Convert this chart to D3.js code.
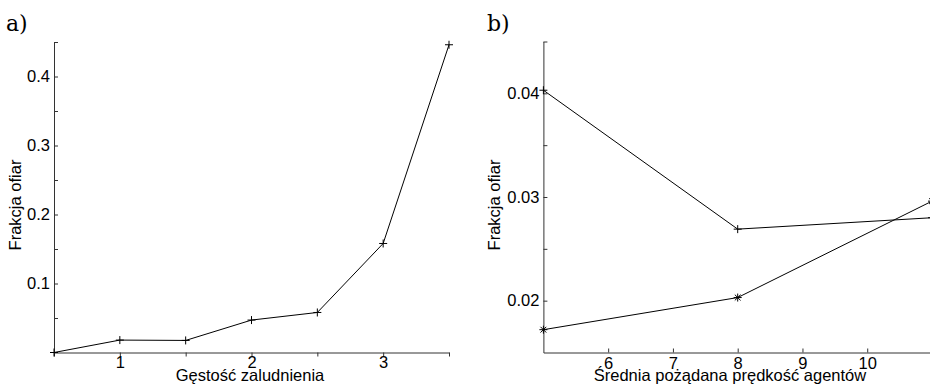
<!DOCTYPE html>
<html><head><meta charset="utf-8">
<script src="https://cdn.jsdelivr.net/npm/d3@7"></script>
<style>
body{margin:0;background:#fff;}
svg{display:block;}
.tick text{font-family:"Liberation Sans",Arial,sans-serif;font-size:16.5px;fill:#000;}
.axtitle{font-family:"Liberation Sans",Arial,sans-serif;font-size:16.5px;fill:#000;}
.plabel{font-family:"DejaVu Serif",serif;font-size:22px;fill:#000;}
</style></head>
<body>
<script>
// ---- Data ----
const densityX = [0.5, 1, 1.5, 2, 2.5, 3, 3.5];
const densityVictims = [0, 0.018, 0.0175, 0.047, 0.058, 0.158, 0.446];
const speedX = [5, 8, 11];
const speedVictimsPlus = [0.0403, 0.0269, 0.0280];
const speedVictimsStar = [0.0172, 0.0203, 0.0296];
const aXTicks = [0.5, 1, 1.5, 2, 2.5, 3, 3.5];
const aXLabeled = [1, 2, 3];
const aYTicks = [0.05, 0.1, 0.15, 0.2, 0.25, 0.3, 0.35, 0.4, 0.45];
const aYLabeled = [0.1, 0.2, 0.3, 0.4];
const bXTicks = [6, 7, 8, 9, 10];
const bYTicks = [0.02, 0.025, 0.03, 0.035, 0.04, 0.045];
const bYLabeled = [0.02, 0.03, 0.04];
const titles = {aX:"Gęstość zaludnienia", aY:"Frakcja ofiar", bX:"Średnia pożądana prędkość agentów", bY:"Frakcja ofiar"};

const W = 930, H = 386;
const svg = d3.select("body").append("svg").attr("width", W).attr("height", H);
const axisColor = "#333";

function near(arr, v){ return arr.some(a => Math.abs(a - v) < 1e-9); }

function plusPath(x, y, r){ return `M${x-r},${y}H${x+r}M${x},${y-r}V${y+r}`; }
function starPath(x, y, r){
  const d = r*0.72;
  return plusPath(x,y,r) + `M${x-d},${y-d}L${x+d},${y+d}M${x-d},${y+d}L${x+d},${y-d}`;
}

function styleAxis(g){
  g.select(".domain").attr("stroke", axisColor).attr("stroke-width", 1);
  g.selectAll(".tick line").attr("stroke", axisColor).attr("stroke-width", 1);
}

// ---- Panel a ----
{
  const x = d3.scaleLinear().domain([0.5, 3.5]).range([54, 449]);
  const y = d3.scaleLinear().domain([0, 0.45]).range([352.5, 42]);
  const gx = svg.append("g").attr("transform", "translate(0,352.5)")
    .call(d3.axisBottom(x).tickValues(aXTicks).tickSizeInner(4).tickSizeOuter(0).tickPadding(0)
      .tickFormat(d => near(aXLabeled, d) ? d3.format("d")(d) : ""));
  styleAxis(gx);
  const gy = svg.append("g").attr("transform", "translate(54,0)")
    .call(d3.axisLeft(y).tickValues(aYTicks).tickSizeInner(-4).tickSizeOuter(0).tickPadding(4)
      .tickFormat(d => near(aYLabeled, d) ? d3.format(".1f")(d) : ""));
  styleAxis(gy);
  const pts = densityX.map((d, i) => [d, densityVictims[i]]);
  svg.append("path").datum(pts)
    .attr("d", d3.line().x(d => x(d[0])).y(d => y(d[1])))
    .attr("fill", "none").attr("stroke", "#000").attr("stroke-width", 1);
  svg.append("g").selectAll("path").data(pts).join("path")
    .attr("d", d => plusPath(x(d[0]), y(d[1]), 4))
    .attr("stroke", "#000").attr("stroke-width", 1).attr("fill", "none");
  svg.append("text").attr("class", "axtitle").attr("x", 250).attr("y", 380.5)
    .attr("text-anchor", "middle").text(titles.aX);
  svg.append("text").attr("class", "axtitle").attr("transform", "translate(21,205) rotate(-90)")
    .attr("text-anchor", "middle").text(titles.aY);
  svg.append("text").attr("class", "plabel").attr("x", 6).attr("y", 31).text("a)");
}

// ---- Panel b ----
{
  const x = d3.scaleLinear().domain([5, 11]).range([543.4, 932]);
  const y = d3.scaleLinear().domain([0.015, 0.045]).range([352.5, 41.5]);
  const gx = svg.append("g").attr("transform", "translate(0,352.5)")
    .call(d3.axisBottom(x).tickValues(bXTicks).tickSizeInner(-4).tickSizeOuter(0).tickPadding(5)
      .tickFormat(d3.format("d")));
  styleAxis(gx);
  const gy = svg.append("g").attr("transform", "translate(543.4,0)")
    .call(d3.axisLeft(y).tickValues(bYTicks).tickSizeInner(-4).tickSizeOuter(0).tickPadding(4)
      .tickFormat(d => near(bYLabeled, d) ? d3.format(".2f")(d) : ""));
  styleAxis(gy);
  const line = d3.line().x(d => x(d[0])).y(d => y(d[1]));
  const p1 = speedX.map((d, i) => [d, speedVictimsPlus[i]]);
  const p2 = speedX.map((d, i) => [d, speedVictimsStar[i]]);
  [p1, p2].forEach(p => svg.append("path").datum(p).attr("d", line)
    .attr("fill", "none").attr("stroke", "#000").attr("stroke-width", 1));
  svg.append("g").selectAll("path").data(p1).join("path")
    .attr("d", d => plusPath(x(d[0]), y(d[1]), 4))
    .attr("stroke", "#000").attr("stroke-width", 1).attr("fill", "none");
  svg.append("g").selectAll("path").data(p2).join("path")
    .attr("d", d => starPath(x(d[0]), y(d[1]), 4))
    .attr("stroke", "#000").attr("stroke-width", 1).attr("fill", "none");
  svg.append("text").attr("class", "axtitle").attr("x", 730).attr("y", 381)
    .attr("text-anchor", "middle").text(titles.bX);
  svg.append("text").attr("class", "axtitle").attr("transform", "translate(500,205) rotate(-90)")
    .attr("text-anchor", "middle").text(titles.bY);
  svg.append("text").attr("class", "plabel").attr("x", 487).attr("y", 31).text("b)");
}
</script>
</body></html>
